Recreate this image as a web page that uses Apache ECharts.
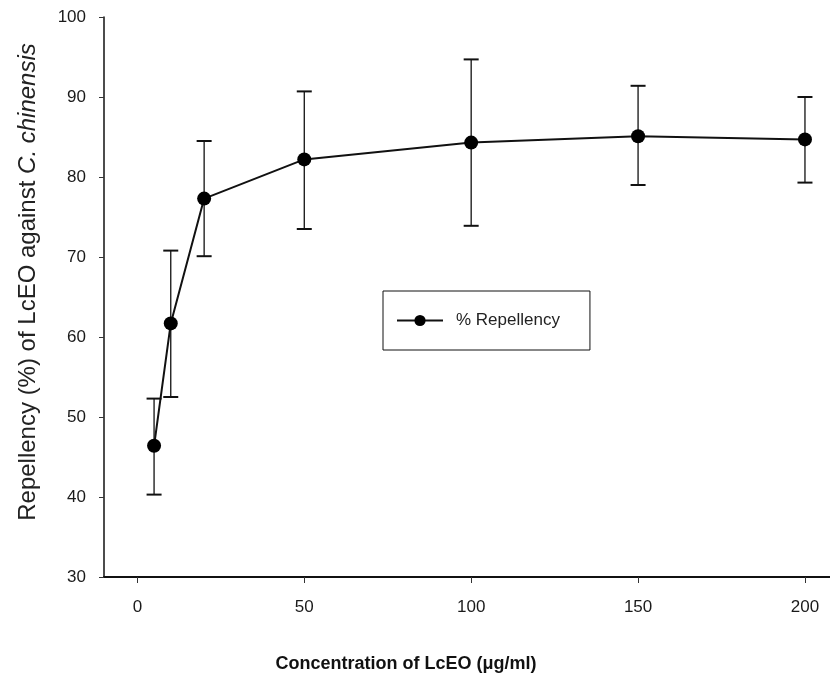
<!DOCTYPE html>
<html>
<head>
<meta charset="utf-8">
<script src="https://cdn.jsdelivr.net/npm/echarts@6/dist/echarts.min.js"></script>
<style>
  html, body { margin: 0; padding: 0; background: #fff; }
  #chart { width: 830px; height: 679px; }
</style>
</head>
<body>
<div id="chart"></div>
<script>
// concentration of LcEO (ug/ml)
var conc = [5, 10, 20, 50, 100, 150, 200];
// mean repellency (%)
var repel = [46.4, 61.7, 77.3, 82.2, 84.3, 85.1, 84.7];
// error bar ends
var upper = [52.3, 70.8, 84.5, 90.7, 94.7, 91.4, 90.0];
var lower = [40.3, 52.5, 70.1, 73.5, 73.9, 79.0, 79.3];
var xTicks = [0, 50, 100, 150, 200];

var font = 'Liberation Sans, Arial, sans-serif';

var lineData = [];
var errData = [];
for (var i = 0; i < conc.length; i++) {
    lineData.push([conc[i], repel[i]]);
    errData.push([conc[i], lower[i], upper[i]]);
}

function renderErr(params, api) {
    var x = api.value(0);
    var lo = api.coord([x, api.value(1)]);
    var hi = api.coord([x, api.value(2)]);
    var half = 7.5;
    return {
        type: 'group',
        children: [
            { type: 'line', shape: { x1: lo[0], y1: lo[1], x2: hi[0], y2: hi[1] }, style: { stroke: '#111', lineWidth: 1.3 } },
            { type: 'line', shape: { x1: lo[0] - half, y1: lo[1], x2: lo[0] + half, y2: lo[1] }, style: { stroke: '#111', lineWidth: 2 } },
            { type: 'line', shape: { x1: hi[0] - half, y1: hi[1], x2: hi[0] + half, y2: hi[1] }, style: { stroke: '#111', lineWidth: 2 } }
        ]
    };
}

var option = {
    animation: false,
    backgroundColor: '#fff',
    grid: { left: 104, right: 0, top: 17, bottom: 102 },
    legend: {
        left: 383,
        top: 291,
        orient: 'horizontal',
        borderColor: '#111',
        borderWidth: 1,
        padding: [21, 30, 21, 13],
        itemWidth: 46,
        itemHeight: 14,
        textStyle: { fontFamily: font, fontSize: 17, color: '#222', padding: [0, 0, 0, 8] },
        data: ['% Repellency']
    },
    xAxis: {
        type: 'value',
        min: -10,
        max: 207.5,
        name: 'Concentration of LcEO (μg/ml)',
        nameLocation: 'middle',
        nameGap: 78,
        nameTextStyle: {
            fontFamily: font, fontSize: 18, fontWeight: 'bold', color: '#111',
            padding: [0, 122, 0, 0]
        },
        splitLine: { show: false },
        axisLine: { onZero: false, lineStyle: { color: '#111', width: 2 } },
        axisTick: { show: true, length: 6, customValues: xTicks, lineStyle: { color: '#333', width: 1 } },
        axisLabel: { customValues: xTicks, margin: 22, fontFamily: font, fontSize: 17, color: '#1a1a1a' }
    },
    yAxis: {
        type: 'value',
        min: 30,
        max: 100,
        interval: 10,
        name: '{n|Repellency (%) of LcEO against }{i|C. chinensis}',
        nameLocation: 'middle',
        nameGap: 64,
        nameTextStyle: {
            padding: [0, 0, 0, 30],
            rich: {
                n: { fontFamily: font, fontSize: 24, color: '#222' },
                i: { fontFamily: font, fontSize: 24, color: '#222', fontStyle: 'italic' }
            }
        },
        splitLine: { show: false },
        axisLine: { show: true, onZero: false, lineStyle: { color: '#111', width: 1.5 } },
        axisTick: { show: true, length: 5, lineStyle: { color: '#333', width: 1 } },
        axisLabel: { margin: 18, fontFamily: font, fontSize: 17, color: '#1a1a1a' }
    },
    series: [
        {
            type: 'custom',
            renderItem: renderErr,
            data: errData,
            encode: { x: 0, y: [1, 2] },
            z: 1,
            silent: true
        },
        {
            name: '% Repellency',
            type: 'line',
            data: lineData,
            symbol: 'circle',
            symbolSize: 14,
            itemStyle: { color: '#000' },
            lineStyle: { color: '#111', width: 2 },
            z: 3
        }
    ]
};

var myChart = echarts.init(document.getElementById('chart'));
myChart.setOption(option);
</script>
</body>
</html>
